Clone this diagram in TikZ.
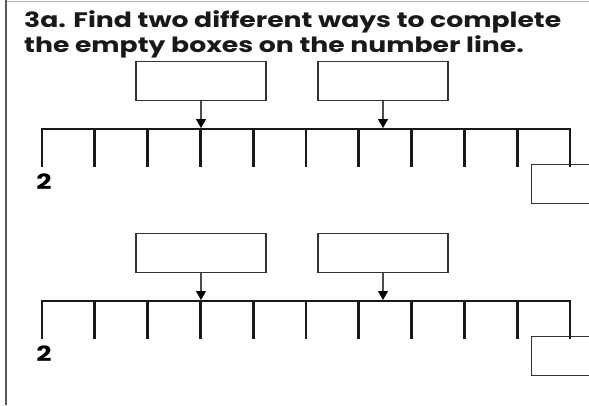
\documentclass[tikz,border=0pt]{standalone}
\usepackage{fontspec}
\setmainfont{Poppins}
\newfontfamily\widefont{Poppins}[FakeStretch=1.27]
\usetikzlibrary{arrows.meta}
\tikzset{
  frame/.style={draw=black!65, line width=1.5pt},
  topedge/.style={draw=black!30, line width=1pt},
  title/.style={anchor=base west, inner sep=0pt, text=black!90,
    font=\widefont\bfseries\fontsize{21}{25}\selectfont},
  blank/.style={draw=black!80, line width=1.4pt, minimum width=130pt,
    minimum height=39pt, inner sep=0pt},
  numline/.style={line width=2.8pt, black!90},
  pointer/.style={line width=1.1pt, black!70,
    -{Triangle[width=10pt,length=9pt,color=black]}},
  endlabel/.style={inner sep=0pt, font=\widefont\bfseries\fontsize{21}{21}\selectfont}
}
\begin{document}
\begin{tikzpicture}[x=1pt, y=-1pt]
  \useasboundingbox (0,0) rectangle (589,405);
  \draw[topedge] (6,1) -- (589,1);
  \draw[frame] (6,405) -- (6,0);

  \node[title] (line1) at (24,27) {3a. Find two different ways to complete};
  \node[title] (line2) at (24,52) {the empty boxes on the number line.};

  \foreach \r/\dy in {1/0, 2/172} {
    \node[blank] (left\r) at (201,{81+\dy}) {};
    \node[blank] (mid\r)  at (383,{81+\dy}) {};
    \node[blank, anchor=north west, minimum width=80pt] (end\r) at (531,{164+\dy}) {};
    \node[endlabel] (start\r) at (44,{182+\dy}) {2};

    \coordinate (p\r) at (201,{128+\dy});
    \coordinate (q\r) at (383,{128+\dy});
    \draw[pointer] (left\r) -- (p\r);
    \draw[pointer] (mid\r)  -- (q\r);

    \draw[numline] (42,{167+\dy}) -- (42,{129+\dy}) -- (570,{129+\dy}) -- (570,{167+\dy});
    \foreach \i in {1,...,9}
      \draw[numline] ({42+52.8*\i},{129+\dy}) -- ({42+52.8*\i},{167+\dy});
  }
\end{tikzpicture}
\end{document}
